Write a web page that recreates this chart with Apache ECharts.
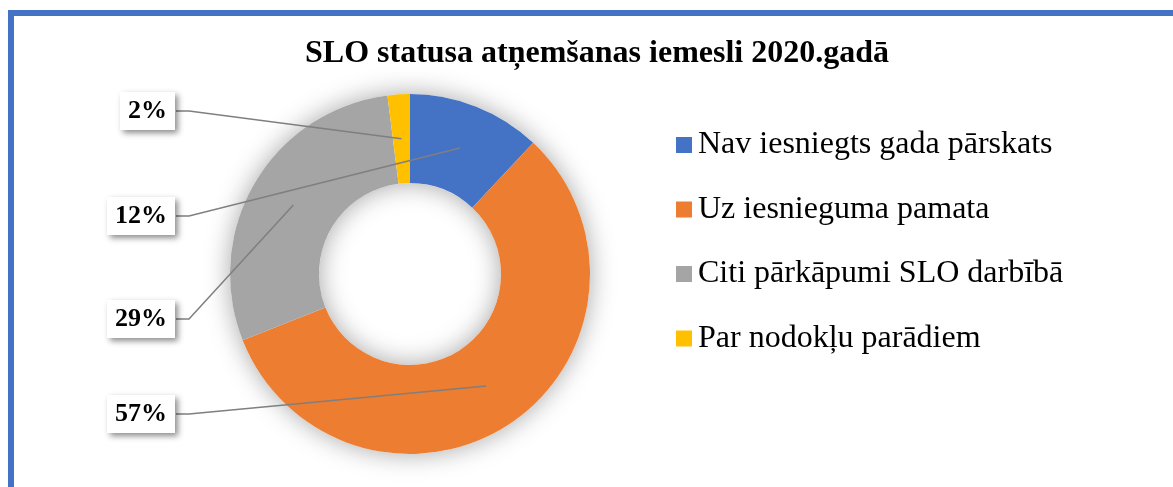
<!DOCTYPE html>
<html>
<head>
<meta charset="utf-8">
<script src="https://cdn.jsdelivr.net/npm/echarts@6/dist/echarts.min.js"></script>
<style>
  html, body { margin: 0; padding: 0; background: #fff; }
  #main { width: 1173px; height: 487px; }
</style>
</head>
<body>
<div id="main"></div>
<script>
// dati no attēla
var categories = ['Nav iesniegts gada pārskats', 'Uz iesnieguma pamata', 'Citi pārkāpumi SLO darbībā', 'Par nodokļu parādiem'];
var values = [12, 57, 29, 2];
var colors = ['#4472C4', '#ED7D31', '#A5A5A5', '#FFC000'];

var CENTER = [410, 274];
var RADIUS = [91, 180];
var FONT = '"Liberation Serif", "Times New Roman", serif';

var total = values.reduce(function (a, b) { return a + b; }, 0);

// etiķešu rindas (y) pēc datu indeksa
var labelY = [216, 414, 319, 111];
var labelRight = 175;

var pieData = categories.map(function (name, i) {
	return { name: name, value: values[i], itemStyle: { color: colors[i] } };
});

var myChart = echarts.init(document.getElementById('main'));

myChart.setOption({
	animation: false,
	title: {
		text: 'SLO statusa atņemšanas iemesli 2020.gadā',
		left: 300,
		top: 33,
		textStyle: { fontFamily: FONT, fontSize: 32, fontWeight: 'bold', color: '#000' }
	},
	legend: {
		orient: 'vertical',
		left: 671,
		top: 124,
		itemWidth: 16,
		itemHeight: 16,
		itemGap: 32.5,
		icon: 'rect',
		data: categories,
		textStyle: { fontFamily: FONT, fontSize: 32, lineHeight: 32, color: '#000', padding: [0, 0, 0, 1] }
	},
	graphic: [{
		type: 'rect',
		shape: { x: 11, y: 13, width: 1300, height: 600 },
		style: { fill: 'none', stroke: '#4472C4', lineWidth: 6 },
		silent: true
	}],
	series: [{
		// krāsainie sektori
		type: 'pie',
		center: CENTER,
		radius: RADIUS,
		startAngle: 90,
		clockwise: true,
		z: 2,
		silent: true,
		itemStyle: { borderWidth: 0 },
		label: { show: false },
		labelLine: { show: false },
		data: pieData
	}, {
		// ēna zem gredzena
		type: 'pie',
		silent: true,
		center: CENTER,
		radius: RADIUS,
		z: 1,
		label: { show: false },
		labelLine: { show: false },
		itemStyle: { color: '#fff', borderWidth: 0, shadowBlur: 26, shadowColor: 'rgba(0,0,0,0.35)' },
		data: [{ value: 1, name: '' }]
	}, {
		// etiķetes un līnijas virs sektoriem
		type: 'pie',
		center: CENTER,
		radius: RADIUS,
		startAngle: 90,
		clockwise: true,
		z: 3,
		silent: true,
		avoidLabelOverlap: false,
		itemStyle: { color: 'rgba(0,0,0,0)', borderWidth: 0 },
		label: {
			show: true,
			position: 'outside',
			formatter: '{d}%',
			fontFamily: FONT,
			fontSize: 26,
			fontWeight: 'bold',
			lineHeight: 26,
			color: '#000',
			backgroundColor: '#fff',
			padding: [6, 8],
			shadowBlur: 6,
			shadowColor: 'rgba(0,0,0,0.45)',
			shadowOffsetX: 3,
			shadowOffsetY: 3
		},
		labelLine: {
			show: true,
			lineStyle: { color: '#7F7F7F', width: 1.5, opacity: 1 }
		},
		labelLayout: function (p) {
			var i = p.dataIndex;
			var before = 0;
			for (var k = 0; k < i; k++) before += values[k];
			var mid = (before + values[i] / 2) / total * Math.PI * 2;
			var r = (RADIUS[0] + RADIUS[1]) / 2;
			var ex = CENTER[0] + r * Math.sin(mid);
			var ey = CENTER[1] - r * Math.cos(mid);
			var y = labelY[i];
			return {
				x: labelRight,
				y: y,
				align: 'right',
				verticalAlign: 'middle',
				labelLinePoints: [[ex, ey], [labelRight + 14, y], [labelRight + 1, y]]
			};
		},
		data: categories.map(function (name, i) {
			return { name: name, value: values[i] };
		})
	}]
});
</script>
</body>
</html>
